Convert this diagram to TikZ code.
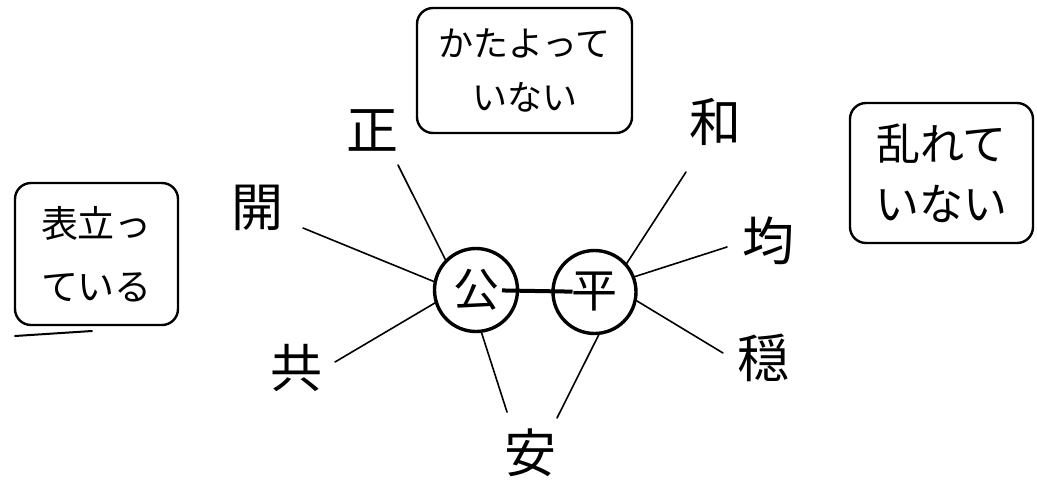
\documentclass[tikz,border=0pt]{standalone}
\usepackage{fontspec}
\newfontfamily\cjk{Noto Sans CJK JP}
\begin{document}
\begin{tikzpicture}[x=1pt,y=-1pt,
  kanji/.style={font=\cjk\fontsize{52}{52}\selectfont, inner sep=1pt},
  hub/.style={draw, circle, line width=3.4pt, minimum size=83pt, inner sep=0pt, outer sep=0pt, font=\cjk\fontsize{46}{46}\selectfont},
  spoke/.style={line width=1.6pt, line cap=round},
  bar/.style={line width=4pt},
  note/.style={draw, line width=2.4pt, rounded corners=16pt, align=center, inner sep=0pt}]
\useasboundingbox (0,0) rectangle (1037,491);
% hubs
\node[hub] (ko) at (476,290) {公};
\node[hub] (hei) at (594.5,292) {平};
\draw[bar, shorten <=26pt, shorten >=22pt] (ko.center) -- (hei.center);
% labels
\node[kanji] (sei) at (372,130) {正};
\node[kanji] (kai) at (257,208) {開};
\node[kanji] (kyo) at (296,368) {共};
\node[kanji] (an) at (530,453) {安};
\node[kanji] (wa) at (715,122) {和};
\node[kanji] (kin) at (768,241) {均};
\node[kanji] (on) at (763,358) {穏};
% spoke ends
\coordinate (seiE) at (398,165);
\coordinate (kaiE) at (303,228);
\coordinate (kyoE) at (335,362);
\coordinate (anL) at (507,412);
\coordinate (anR) at (557,418);
\coordinate (waE) at (686,172);
\coordinate (kinE) at (727,247);
\coordinate (onE) at (723,353);
\draw[spoke] (ko.136) -- (seiE);
\draw[spoke] (ko.169) -- (kaiE);
\draw[spoke] (ko.197) -- (kyoE);
\draw[spoke] (ko.277) -- (anL);
\draw[spoke] (hei.41) -- (waE);
\draw[spoke] (hei.21) -- (kinE);
\draw[spoke] (hei.-11) -- (onE);
\draw[spoke] (hei.277) -- (anR);
% notes
\node[note, minimum width=163pt, minimum height=142pt, font=\cjk\fontsize{37}{63}\selectfont] (omote) at (96.5,254) {表立っ\\ている};
\node[note, minimum width=215pt, minimum height=125pt, font=\cjk\fontsize{35}{54}\selectfont] (kata) at (524.5,70.5) {かたよって\\いない};
\node[note, minimum width=183pt, minimum height=140pt, font=\cjk\fontsize{44}{60}\selectfont] (mida) at (941.5,173) {乱れて\\いない};
\draw[line width=2pt, line cap=round] (15,336) -- (92,331);
\end{tikzpicture}
\end{document}
